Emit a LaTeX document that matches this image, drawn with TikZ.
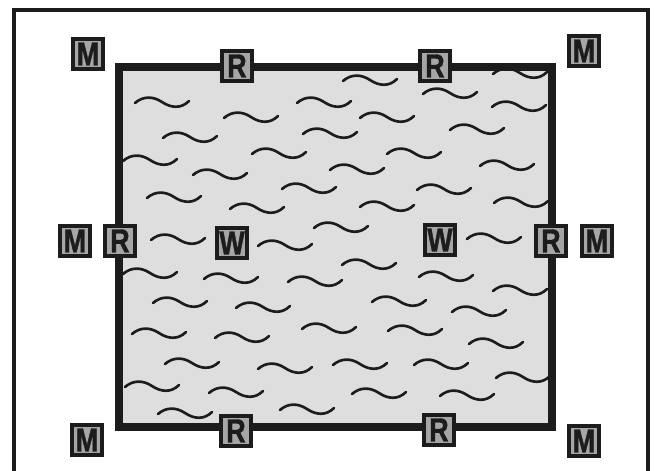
\documentclass[tikz,border=0pt]{standalone}
\usepackage{fontspec}
\setmainfont{Liberation Sans}
\newfontfamily\tagfont[FakeStretch=0.8,FakeBold=1.2]{Liberation Sans Bold}
\usetikzlibrary{positioning}
\definecolor{inkGrey}{RGB}{28,28,28}
\colorlet{PoolFill}{black!13}
\colorlet{TagFill}{black!35}

\begin{document}
\begin{tikzpicture}[
    x=0.02cm,y=-0.02cm,
    tag/.style={draw=inkGrey,fill=TagFill,line width=2.3pt,minimum size=0.6cm,
      inner sep=0pt,font=\tagfont\fontsize{19}{19}\selectfont,text=inkGrey},
    wave/.style={line width=1.5pt,inkGrey,line cap=round},
    rim/.style={line width=4.6pt,inkGrey}
  ]
  \useasboundingbox (0,0) rectangle (654,471);
  \draw[line width=2.3pt,inkGrey] (14,480) -- (14,10) -- (648,10) -- (648,480);

  \fill[PoolFill] (119,67) rectangle (552,427);
  \foreach \x/\y in {343/80,493/73,135/102,297/102,423/93,492/106,224/117,360/117,
      163/137,303/133,450/129,123/160,252/153,387/153,193/174,330/169,480/165,
      147/197,282/188,417/189,230/208,360/206,494/202,151/239,258/245,314/227,
      467/238,123/273,204/278,288/281,342/264,419/276,493/290,153/302,236/307,
      372/301,452/311,132/333,215/337,302/328,388/330,469/343,165/363,258/368,
      333/364,414/364,496/377,125/386,209/392,352/393,440/395,158/413,280/409}{
    \draw[wave,shift={(\x,\y)}]
      (0,1) .. controls (8,-6) and (18,-6) .. (27,0)
      .. controls (36,6) and (46,7) .. (54,-1);
  }
  \draw[rim] (119,67) rectangle (552,427);

  \node[tag] (mTL) at (88,54) {M};
  \node[tag] (mTR) at (584,51) {M};
  \node[tag] (mBL) at (87,440) {M};
  \node[tag] (mBR) at (584,441) {M};
  \node[tag] (rT1) at (237,66) {R};
  \node[tag] (rT2) at (435,66) {R};
  \node[tag] (rB1) at (236,431) {R};
  \node[tag] (rB2) at (439,430) {R};
  \node[tag] (rL) at (120,241) {R};
  \node[tag] (rR) at (551,241) {R};
  \node[tag,left=0.22cm of rL] (mL) {M};
  \node[tag,right=0.24cm of rR] (mR) {M};
  \node[tag] (wL) at (232,243) {W};
  \node[tag] (wR) at (440,240) {W};
\end{tikzpicture}
\end{document}
